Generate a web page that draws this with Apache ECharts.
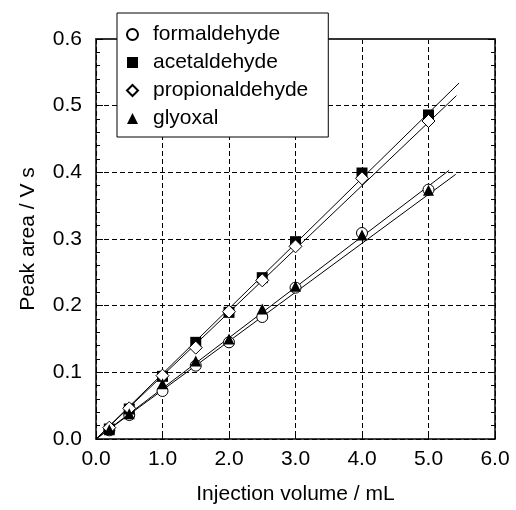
<!DOCTYPE html>
<html>
<head>
<meta charset="utf-8">
<script src="https://cdn.jsdelivr.net/npm/echarts@6/dist/echarts.min.js"></script>
<style>
  html, body { margin: 0; padding: 0; background: #fff; }
  #chart { width: 516px; height: 510px; }
</style>
</head>
<body>
<div id="chart"></div>
<script>
// injection volume (mL)
const volume = [0.2, 0.5, 1.0, 1.5, 2.0, 2.5, 3.0, 4.0, 5.0];
// peak area (V s)
const formaldehyde = [0.013, 0.036, 0.072, 0.110, 0.145, 0.183, 0.227, 0.309, 0.374];
const acetaldehyde = [0.015, 0.045, 0.094, 0.145, 0.190, 0.242, 0.296, 0.399, 0.486];
const propionaldehyde = [0.017, 0.046, 0.095, 0.137, 0.191, 0.238, 0.289, 0.391, 0.477];
const glyoxal = [0.014, 0.038, 0.083, 0.117, 0.150, 0.195, 0.229, 0.306, 0.373];
// fitted lines, end points
const formaldehydeFit = [[0, 0], [5.41, 0.397]];
const acetaldehydeFit = [[0, 0], [5.46, 0.534]];
const propionaldehydeFit = [[0, 0], [5.42, 0.515]];
const glyoxalFit = [[0, 0], [5.31, 0.403]];

const font = "'Liberation Sans', Arial, sans-serif";

function pairs(ys) {
  return volume.map((v, i) => [v, ys[i]]);
}

function fitLine(data) {
  return {
    type: 'line',
    data: data,
    symbol: 'none',
    silent: true,
    z: 1,
    lineStyle: { color: '#000', width: 1 }
  };
}

const chart = echarts.init(document.getElementById('chart'), null, { renderer: 'canvas' });

const yTicks = {
  show: true,
  inside: true,
  length: 7,
  lineStyle: { color: '#000', width: 1 }
};
const yMinor = {
  show: true,
  splitNumber: 5,
  length: 4,
  lineStyle: { color: '#000', width: 1 }
};
const dashed = {
  show: true,
  lineStyle: { color: '#000', width: 1, type: [5, 3] }
};

chart.setOption({
  animation: false,
  backgroundColor: '#fff',
  textStyle: { fontFamily: font },
  grid: { left: 96, right: 21, top: 39, bottom: 70, containLabel: false },
  legend: {
    orient: 'vertical',
    left: 117,
    top: 13,
    padding: [11, 20, 8, 9],
    itemWidth: 11,
    itemHeight: 11,
    itemGap: 7,
    backgroundColor: '#fff',
    borderColor: '#000',
    borderWidth: 1,
    z: 10,
    textStyle: { fontFamily: font, fontSize: 21, color: '#000', lineHeight: 20, padding: [0, 0, 0, 10] },
    data: ['formaldehyde', 'acetaldehyde', 'propionaldehyde', 'glyoxal']
  },
  xAxis: [{
    type: 'value',
    min: 0,
    max: 6,
    interval: 1,
    name: 'Injection volume / mL',
    nameLocation: 'middle',
    nameGap: 45,
    nameTextStyle: { fontFamily: font, fontSize: 21, color: '#000' },
    axisLine: { show: true, onZero: false, lineStyle: { color: '#000', width: 1.5 } },
    axisTick: { show: true, inside: true, length: 5, lineStyle: { color: '#000' } },
    axisLabel: { fontFamily: font, fontSize: 21, color: '#000', margin: 10, formatter: v => v.toFixed(1) },
    splitLine: dashed
  }, {
    type: 'value',
    position: 'top',
    min: 0,
    max: 6,
    interval: 1,
    axisLine: { show: true, onZero: false, lineStyle: { color: '#333', width: 2 } },
    axisTick: { show: false },
    axisLabel: { show: false },
    splitLine: { show: false }
  }],
  yAxis: [{
    type: 'value',
    min: 0,
    max: 0.6,
    interval: 0.1,
    name: 'Peak area / V s',
    nameLocation: 'middle',
    nameGap: 57,
    nameTextStyle: { fontFamily: font, fontSize: 21, color: '#000' },
    axisLine: { show: true, onZero: false, lineStyle: { color: '#000', width: 1.5 } },
    axisTick: yTicks,
    minorTick: yMinor,
    axisLabel: { fontFamily: font, fontSize: 21, color: '#000', margin: 14, formatter: v => v.toFixed(1) },
    splitLine: dashed
  }, {
    type: 'value',
    position: 'right',
    min: 0,
    max: 0.6,
    interval: 0.1,
    axisLine: { show: true, onZero: false, lineStyle: { color: '#000', width: 1.5 } },
    axisTick: yTicks,
    minorTick: yMinor,
    axisLabel: { show: false },
    splitLine: { show: false }
  }],
  series: [
    fitLine(formaldehydeFit),
    fitLine(acetaldehydeFit),
    fitLine(propionaldehydeFit),
    fitLine(glyoxalFit),
    {
      name: 'formaldehyde',
      type: 'scatter',
      data: pairs(formaldehyde),
      symbol: 'circle',
      symbolSize: 11,
      z: 3,
      itemStyle: { color: '#fff', borderColor: '#000', borderWidth: 1, opacity: 1 }
    },
    {
      name: 'acetaldehyde',
      type: 'scatter',
      data: pairs(acetaldehyde),
      symbol: 'rect',
      symbolSize: 11,
      z: 3,
      itemStyle: { color: '#000', opacity: 1 }
    },
    {
      name: 'propionaldehyde',
      type: 'scatter',
      data: pairs(propionaldehyde),
      symbol: 'diamond',
      symbolSize: 13,
      z: 4,
      itemStyle: { color: '#fff', borderColor: '#000', borderWidth: 1, opacity: 1 }
    },
    {
      name: 'glyoxal',
      type: 'scatter',
      data: pairs(glyoxal),
      symbol: 'triangle',
      symbolSize: 11,
      z: 4,
      itemStyle: { color: '#000', opacity: 1 }
    }
  ]
});
</script>
</body>
</html>
